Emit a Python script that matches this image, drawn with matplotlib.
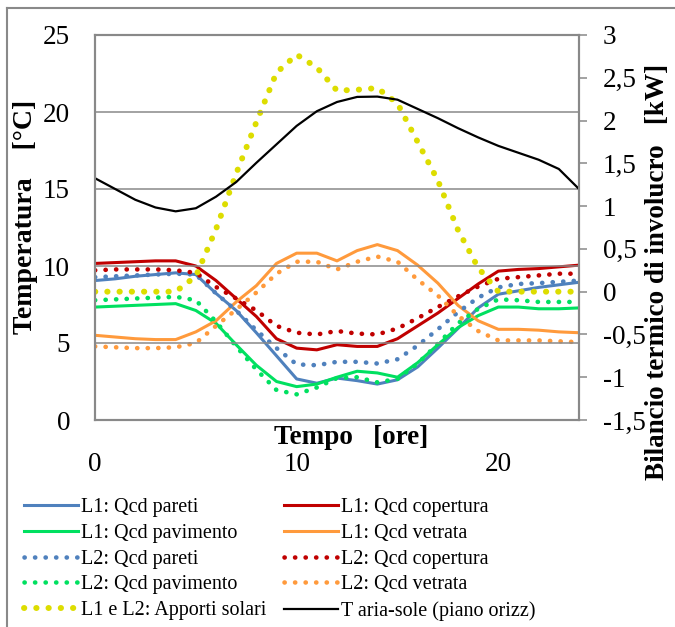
import matplotlib
matplotlib.use("Agg")
import matplotlib.pyplot as plt
from matplotlib.lines import Line2D

hours = list(range(25))

l1_pareti = [0.13, 0.15, 0.18, 0.20, 0.22, 0.20, -0.02, -0.22, -0.48, -0.75, -1.02, -1.07, -1.01,
             -1.04, -1.08, -1.03, -0.88, -0.66, -0.43, -0.19, -0.03, 0.01, 0.05, 0.08, 0.11]
l1_copertura = [0.33, 0.34, 0.35, 0.36, 0.36, 0.30, 0.13, -0.08, -0.29, -0.55, -0.66, -0.68, -0.62,
                -0.64, -0.64, -0.55, -0.40, -0.25, -0.08, 0.09, 0.24, 0.26, 0.27, 0.29, 0.31]
l1_pavimento = [-0.18, -0.17, -0.16, -0.15, -0.14, -0.22, -0.37, -0.62, -0.86, -1.05, -1.11, -1.08, -1.00,
                -0.93, -0.95, -1.00, -0.83, -0.62, -0.42, -0.28, -0.18, -0.18, -0.20, -0.20, -0.19]
l1_vetrata = [-0.51, -0.53, -0.55, -0.56, -0.56, -0.47, -0.34, -0.12, 0.07, 0.33, 0.45, 0.45, 0.36,
              0.48, 0.55, 0.48, 0.31, 0.10, -0.16, -0.34, -0.44, -0.44, -0.45, -0.47, -0.48]
l2_pareti = [0.17, 0.18, 0.19, 0.20, 0.21, 0.20, -0.02, -0.22, -0.45, -0.66, -0.85, -0.86, -0.82,
             -0.82, -0.84, -0.79, -0.63, -0.44, -0.24, -0.07, 0.05, 0.09, 0.10, 0.115, 0.13]
l2_copertura = [0.25, 0.26, 0.26, 0.26, 0.25, 0.22, 0.055, -0.08, -0.22, -0.40, -0.48, -0.50, -0.46,
                -0.49, -0.50, -0.43, -0.31, -0.18, -0.055, 0.06, 0.15, 0.17, 0.19, 0.21, 0.21]
l2_pavimento = [-0.10, -0.09, -0.08, -0.07, -0.06, -0.10, -0.35, -0.64, -0.91, -1.15, -1.20, -1.12, -1.01,
                -1.00, -1.06, -1.02, -0.84, -0.61, -0.37, -0.20, -0.09, -0.10, -0.12, -0.12, -0.12]
l2_vetrata = [-0.64, -0.65, -0.66, -0.66, -0.65, -0.60, -0.40, -0.21, -0.01, 0.21, 0.35, 0.35, 0.26,
              0.35, 0.41, 0.35, 0.14, -0.045, -0.28, -0.46, -0.57, -0.57, -0.57, -0.58, -0.59]
apporti_solari = [0.0, 0.0, 0.0, 0.0, 0.0, 0.18, 0.73, 1.38, 1.98, 2.56, 2.77, 2.62, 2.35,
                  2.36, 2.38, 2.20, 1.75, 1.30, 0.72, 0.28, 0.0, 0.0, 0.0, 0.0, 0.0]
t_aria_sole = [15.7, 15.0, 14.3, 13.8, 13.55, 13.75, 14.5, 15.45, 16.7, 17.9, 19.1, 20.05, 20.65,
               20.98, 21.0, 20.8, 20.2, 19.6, 18.95, 18.35, 17.8, 17.35, 16.9, 16.3, 15.0]

left_ticks = [0, 5, 10, 15, 20, 25]
right_ticks = [-1.5, -1, -0.5, 0, 0.5, 1, 1.5, 2, 2.5, 3]
right_labels = ["-1,5", "-1", "-0,5", "0", "0,5", "1", "1,5", "2", "2,5", "3"]
x_ticks = [0, 10, 20]

BLUE = "#4F81BD"
RED = "#C00000"
GREEN = "#00E060"
ORANGE = "#FF9A3C"
YELLOW = "#DDDD00"
GRAY = "#898989"

plt.rcParams['font.family'] = ['Liberation Serif', 'DejaVu Serif']

W, H = 675, 627
fig = plt.figure(figsize=(W / 100, H / 100), dpi=100)
L, R, T, B = 95, 579, 35, 420
ax = fig.add_axes([L / W, 1 - B / H, (R - L) / W, (B - T) / H])
ax2 = ax.twinx()

ax.set_xlim(0, 24)
ax.set_ylim(0, 25)
ax2.set_ylim(-1.5, 3)

ax.set_yticks(left_ticks)
ax.set_xticks(x_ticks)
ax2.set_yticks(right_ticks)
ax2.set_yticklabels(right_labels)

ax.yaxis.grid(True, color=GRAY, lw=1.1)
ax.set_axisbelow(True)
ax.tick_params(axis='y', length=0, labelsize=19.5, pad=18)
ax.tick_params(axis='x', length=0, labelsize=19.5, pad=23)
ax2.tick_params(axis='y', length=6, width=1.1, color=GRAY, direction='out', labelsize=19.5, pad=11)
for a in (ax, ax2):
    for s in a.spines.values():
        s.set_color(GRAY)
        s.set_linewidth(1.5)

ax.set_zorder(2)
ax.patch.set_visible(False)

lw_s = 2.2
dot = dict(lw=3.3, linestyle=(0, (0.05, 2.25)), dash_capstyle='round')

h_l1p, = ax2.plot(hours, l1_pareti, color=BLUE, lw=lw_s, label="L1: Qcd pareti")
h_l1c, = ax2.plot(hours, l1_copertura, color=RED, lw=lw_s, label="L1: Qcd copertura")
h_l1v_, = ax2.plot(hours, l1_pavimento, color=GREEN, lw=lw_s, label="L1: Qcd pavimento")
h_l1w, = ax2.plot(hours, l1_vetrata, color=ORANGE, lw=lw_s, label="L1: Qcd vetrata")
h_l2p, = ax2.plot(hours, l2_pareti, color=BLUE, label="L2: Qcd pareti", **dot)
h_l2c, = ax2.plot(hours, l2_copertura, color=RED, label="L2: Qcd copertura", **dot)
h_l2v_, = ax2.plot(hours, l2_pavimento, color=GREEN, label="L2: Qcd pavimento", **dot)
h_l2w, = ax2.plot(hours, l2_vetrata, color=ORANGE, label="L2: Qcd vetrata", **dot)
h_sol, = ax2.plot(hours, apporti_solari, color=YELLOW, lw=4.3, linestyle=(0, (0.05, 2.0)),
                  dash_capstyle='round', label="L1 e L2: Apporti solari")
h_t, = ax.plot(hours, t_aria_sole, color="black", lw=1.6, label="T aria-sole (piano orizz)")

fig.text(351 / W, 1 - 437 / H, "Tempo   [ore]", ha='center', va='center',
         fontsize=19.5, fontweight='bold')
fig.text(26 / W, 1 - 217 / H, "Temperatura    [°C]", ha='center', va='center',
         rotation=90, fontsize=20, fontweight='bold')
fig.text(657 / W, 1 - 272 / H, "Bilancio termico di involucro   [kW]", ha='center', va='center',
         rotation=90, fontsize=19.5, fontweight='bold')

handles = [h_l1p, h_l1v_, h_l2p, h_l2v_, h_sol, h_l1c, h_l1w, h_l2c, h_l2w, h_t]
fig.legend(handles=handles, labels=[h.get_label() for h in handles], ncol=2,
           loc='upper left', bbox_to_anchor=(24 / W, 1 - 498 / H), frameon=False,
           fontsize=14.5, handlelength=2.7, handletextpad=0.15, columnspacing=0.85,
           labelspacing=0.33, borderaxespad=0, borderpad=0)

fig.add_artist(Line2D([7 / W, 1], [1 - 8 / H, 1 - 8 / H], color=GRAY, lw=1.5))
fig.add_artist(Line2D([7 / W, 7 / W], [0, 1 - 8 / H], color=GRAY, lw=1.5))

fig.savefig("out.png", dpi=100)
